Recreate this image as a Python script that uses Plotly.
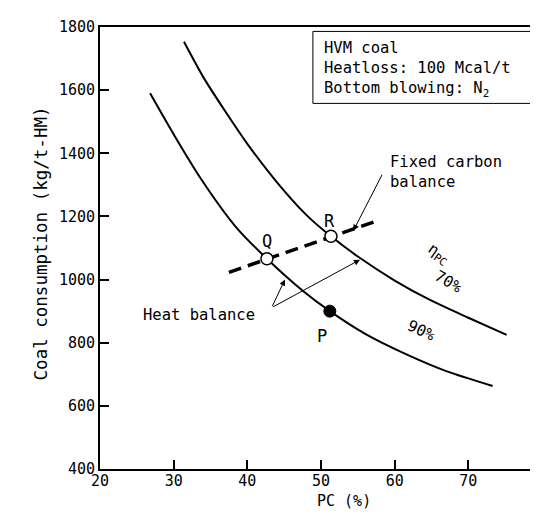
import plotly.graph_objects as go

# ---- data ----
pc_70 = [31.4, 34.0, 37.0, 40.0, 44.0, 48.0, 51.35, 55.0, 60.0, 65.0, 70.0, 75.2]
coal_70 = [1753, 1642, 1533, 1430, 1309, 1205, 1137, 1073, 997, 933, 879, 825]

pc_90 = [26.8, 30.05, 33.65, 38.4, 42.66, 47.6, 51.2, 56.0, 61.6, 67.0, 73.3]
coal_90 = [1590, 1458, 1321, 1168, 1066, 963, 900, 828, 763, 710, 663]

fixed_c_pc = [37.5, 58.0]
fixed_c_coal = [1023, 1189]

open_pts_pc = [42.66, 51.35]      # Q, R
open_pts_coal = [1066, 1137]
filled_pc = [51.2]                # P
filled_coal = [900]

x_ticks = [20, 30, 40, 50, 60, 70]
y_ticks = [400, 600, 800, 1000, 1200, 1400, 1600, 1800]

FONT = "DejaVu Sans Mono"
fig = go.Figure()

fig.add_trace(go.Scatter(x=pc_70, y=coal_70, mode="lines",
                         line=dict(color="black", width=2, shape="spline", smoothing=0.7)))
fig.add_trace(go.Scatter(x=pc_90, y=coal_90, mode="lines",
                         line=dict(color="black", width=2, shape="spline", smoothing=0.7)))
fig.add_trace(go.Scatter(x=fixed_c_pc, y=fixed_c_coal, mode="lines",
                         line=dict(color="black", width=3.5, dash="13px,7px")))
fig.add_trace(go.Scatter(x=open_pts_pc, y=open_pts_coal, mode="markers",
                         marker=dict(size=12, color="white", line=dict(color="black", width=1.5))))
fig.add_trace(go.Scatter(x=filled_pc, y=filled_coal, mode="markers",
                         marker=dict(size=12, color="black", line=dict(color="black", width=1))))

ann = []
# point labels
ann.append(dict(x=42.66, y=1121, text="Q", showarrow=False, font=dict(size=17)))
ann.append(dict(x=51.2, y=1186, text="R", showarrow=False, font=dict(size=17)))
ann.append(dict(x=50.1, y=821, text="P", showarrow=False, font=dict(size=17)))
# text labels
ann.append(dict(x=41.3, y=888, text="Heat balance", showarrow=False, xanchor="right"))
ann.append(dict(x=59.1, y=1342, text="Fixed carbon<br>balance", showarrow=False,
                xanchor="left", align="left"))
ann.append(dict(x=65.9, y=1080, text="η<sub>PC</sub>", showarrow=False, textangle=35))
ann.append(dict(x=67.3, y=992, text="70%", showarrow=False, textangle=30))
ann.append(dict(x=63.7, y=837, text="90%", showarrow=False, textangle=25))
# arrows
for (hx, hy, tx, ty) in [(54.4, 1155, 58.4, 1337), (45.1, 1000, 43.3, 911), (55.3, 1063, 43.3, 911)]:
    ann.append(dict(x=hx, y=hy, ax=tx, ay=ty, axref="x", ayref="y", text="",
                    showarrow=True, arrowhead=2, arrowsize=1.2, arrowwidth=1, arrowcolor="black"))
# condition box text
ann.append(dict(x=50.1, y=1664, text="HVM coal<br>Heatloss: 100 Mcal/t<br>Bottom blowing: N<sub>2</sub>",
                showarrow=False, xanchor="left", align="left"))
# axis titles
ann.append(dict(xref="paper", yref="paper", x=-0.160, y=0.511, text="Coal consumption (kg/t-HM)",
                showarrow=False, textangle=-90, font=dict(size=17.5)))
ann.append(dict(xref="x", yref="paper", x=53.07, y=-0.097, text="PC (%)", showarrow=False,
                font=dict(size=15)))

fig.add_shape(type="rect", x0=48.9, x1=78.6, y0=1558, y1=1786,
              line=dict(color="black", width=1), fillcolor="white", layer="below")

fig.update_layout(
    width=538, height=514,
    margin=dict(l=92, r=2, t=18.5, b=52.5),
    plot_bgcolor="white", paper_bgcolor="white",
    showlegend=False,
    font=dict(family=FONT, size=15.5, color="black"),
    annotations=ann,
)
fig.update_xaxes(range=[20, 80], tickvals=x_ticks, ticktext=[str(v) for v in x_ticks],
                 showgrid=False, zeroline=False, showline=True, mirror=True,
                 linecolor="black", linewidth=2, ticks="inside", ticklen=9, tickwidth=1.5,
                 tickcolor="black", tickfont=dict(size=15), ticklabelstandoff=-3)
fig.update_yaxes(range=[400, 1800], tickvals=y_ticks, ticktext=[str(v) for v in y_ticks],
                 showgrid=False, zeroline=False, showline=True, mirror=True,
                 linecolor="black", linewidth=2, ticks="inside", ticklen=9, tickwidth=1.5,
                 tickcolor="black", tickfont=dict(size=15))

fig.write_html("out.html")
